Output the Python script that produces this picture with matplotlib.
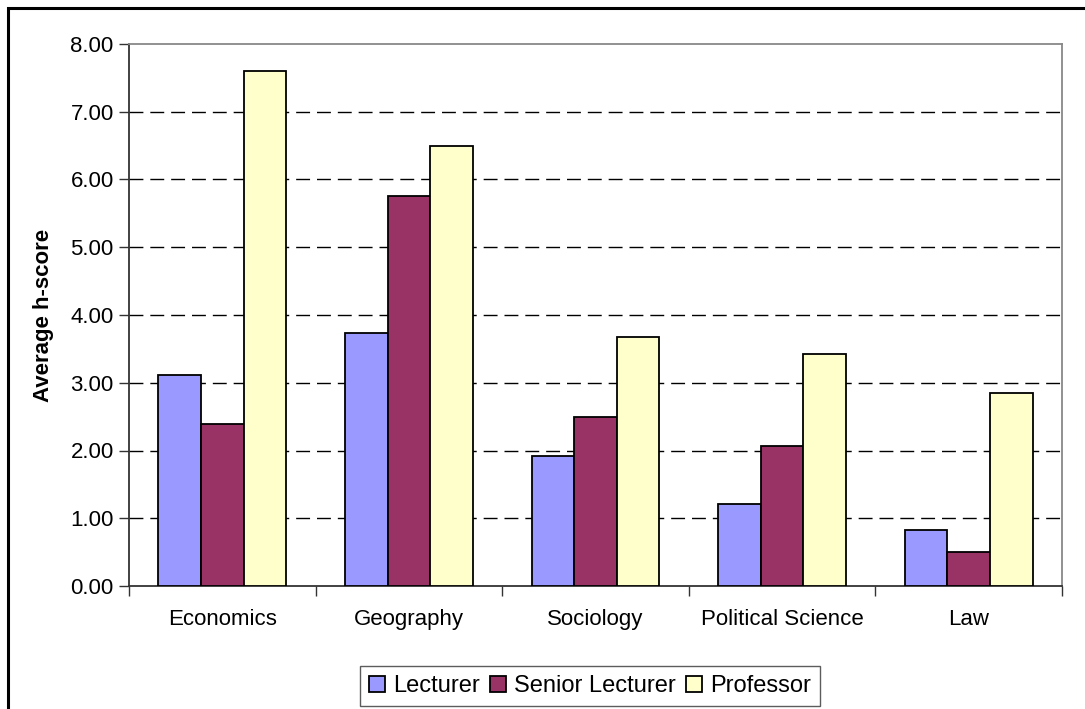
import numpy as np
import matplotlib
matplotlib.use("Agg")
import matplotlib.pyplot as plt
from matplotlib.patches import Rectangle

plt.rcParams['font.family'] = ['Liberation Sans', 'DejaVu Sans']
plt.rcParams['lines.scale_dashes'] = False

### data ###

categories = ["Economics", "Geography", "Sociology", "Political Science", "Law"]
series_names = ["Lecturer", "Senior Lecturer", "Professor"]
lecturer = [3.11, 3.73, 1.92, 1.21, 0.83]
senior_lecturer = [2.39, 5.76, 2.49, 2.07, 0.50]
professor = [7.60, 6.49, 3.68, 3.42, 2.85]
y_ticks = [0, 1, 2, 3, 4, 5, 6, 7, 8]

colors = ["#9999FF", "#993366", "#FFFFCC"]

### plot ###

fig = plt.figure(figsize=(10.85, 7.09), dpi=100)
ax = fig.add_axes([129 / 1085, 123 / 709, 933 / 1085, 542 / 709])

x = np.arange(len(categories))
bar_w = 0.228
for i, (name, vals) in enumerate(zip(series_names, [lecturer, senior_lecturer, professor])):
    ax.bar(x + (i - 1) * bar_w, vals, bar_w, color=colors[i], edgecolor="black",
           linewidth=1.3, label=name, zorder=3)

ax.set_xlim(-0.5, len(categories) - 0.5)
ax.set_ylim(0, 8)
ax.set_yticks(y_ticks)
ax.set_yticklabels([f"{v:.2f}" for v in y_ticks], fontsize=16)
ax.set_xticks(x)
ax.set_xticklabels(categories, fontsize=16)
ax.set_xticks(np.arange(len(categories) + 1) - 0.5, minor=True)
ax.tick_params(axis="x", which="major", length=0, pad=16.5)
ax.tick_params(axis="x", which="minor", length=7, width=1, color="#333333", direction="out")
ax.tick_params(axis="y", length=7, width=1, color="#333333", direction="out", pad=4)

for v in y_ticks[1:-1]:
    ax.axhline(v, color="black", linewidth=1, dashes=(10, 5), zorder=1)

ax.spines["left"].set_color("#333333")
ax.spines["bottom"].set_color("#333333")
ax.spines["top"].set_color("#888888")
ax.spines["right"].set_color("#888888")
for s in ax.spines.values():
    s.set_linewidth(1.3)

ax.set_ylabel("Average h-score", fontsize=16, fontweight="bold", labelpad=12)

leg = fig.legend(loc="center", bbox_to_anchor=(590 / 1085, 23 / 709), ncol=3,
                 fontsize=17, frameon=True, fancybox=False, edgecolor="#333333",
                 handlelength=0.65, handleheight=0.65, handletextpad=0.35,
                 columnspacing=0.45, borderpad=0.4, borderaxespad=0)
leg.get_frame().set_linewidth(1.0)

# outer chart frame (bottom/right edges fall outside the image)
fig.patches.append(Rectangle((7.5 / 1085, -0.1), 1.2, 1.1 - 7.5 / 709,
                             transform=fig.transFigure, fill=False,
                             edgecolor="black", linewidth=2.2))

fig.savefig("out.png", dpi=100)
